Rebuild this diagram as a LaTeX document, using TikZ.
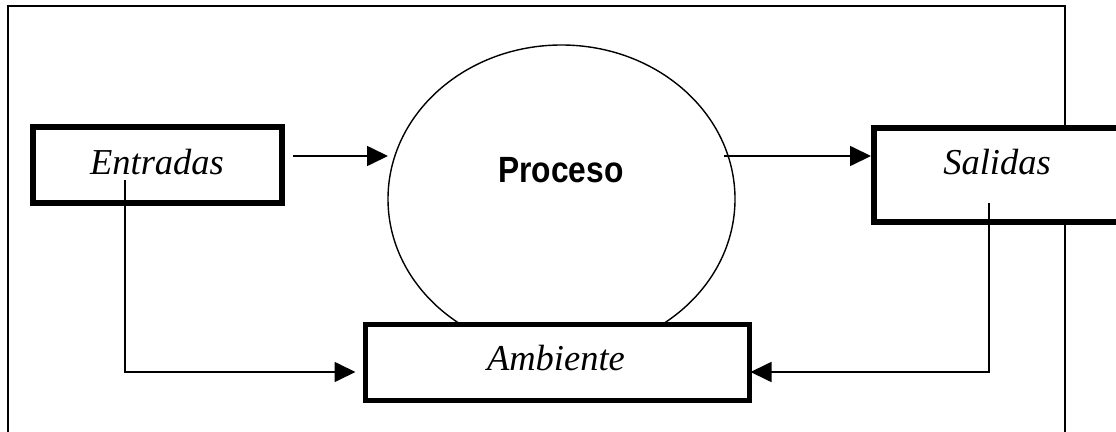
\documentclass[tikz,border=0pt]{standalone}
\usepackage{fontspec}
\setmainfont{Liberation Serif}
\newfontfamily\procfont{Liberation Sans}
\usetikzlibrary{arrows.meta,shapes.geometric,calc}
\begin{document}
\begin{tikzpicture}[x=1pt,y=-1pt,
  thinline/.style={line width=1.7pt},
  flow/.style={thinline,-{Triangle[length=21pt,width=20pt]}},
  thickbox/.style={rectangle,draw,line width=5.5pt,fill=white,inner sep=0pt,outer sep=0pt},
  lbl/.style={font=\fontsize{36.5}{40}\selectfont\itshape,anchor=base,inner sep=0pt},
  ]
\useasboundingbox (0,0) rectangle (1116,431);
\clip (0,0) rectangle (1116,431);
% outer frame
\coordinate (fbl) at (8,445);
\coordinate (ftl) at (8,6);
\coordinate (ftr) at (1065,6);
\coordinate (fbr) at (1065,445);
\draw[thinline] (fbl) -- (ftl) -- (ftr) -- (fbr);
% process ellipse
\node[ellipse,draw,line width=1.4pt,minimum width=347pt,minimum height=308pt,inner sep=0pt,outer sep=0pt] (proceso) at (561.5,199) {};
\node[font=\procfont\bfseries\fontsize{36.5}{40}\selectfont,anchor=base,inner sep=0pt] (proctext) at (561,182) {\scalebox{0.87}[1]{Proceso}};
% boxes
\node[thickbox,minimum width=249pt,minimum height=76pt] (entradas) at (157.5,165) {};
\node[thickbox,minimum width=266pt,minimum height=94pt] (salidas) at (1007,175) {};
\node[thickbox,minimum width=384pt,minimum height=76pt] (ambiente) at (557.5,362.5) {};
\node[lbl] (entradastext) at (157,174) {Entradas};
\node[lbl] (salidastext) at (997,174) {Salidas};
\node[lbl] (ambientetext) at (556,370) {Ambiente};
% connectors
\coordinate (e1) at (293,156);
\coordinate (s1) at (724,156);
\coordinate (e2) at (125,180);
\coordinate (e3) at (125,372);
\coordinate (s2) at (989,203);
\coordinate (s3) at (989,372);
\draw[flow] (e1) -- (e1 -| proceso.west);
\draw[flow,shorten >=3pt] (s1) -- (s1 -| salidas.west);
\draw[flow,shorten >=10pt] (e2) -- (e3) -- (e3 -| ambiente.west);
\draw[flow,shorten >=1pt] (s2) -- (s3) -- (s3 -| ambiente.east);
\end{tikzpicture}
\end{document}
